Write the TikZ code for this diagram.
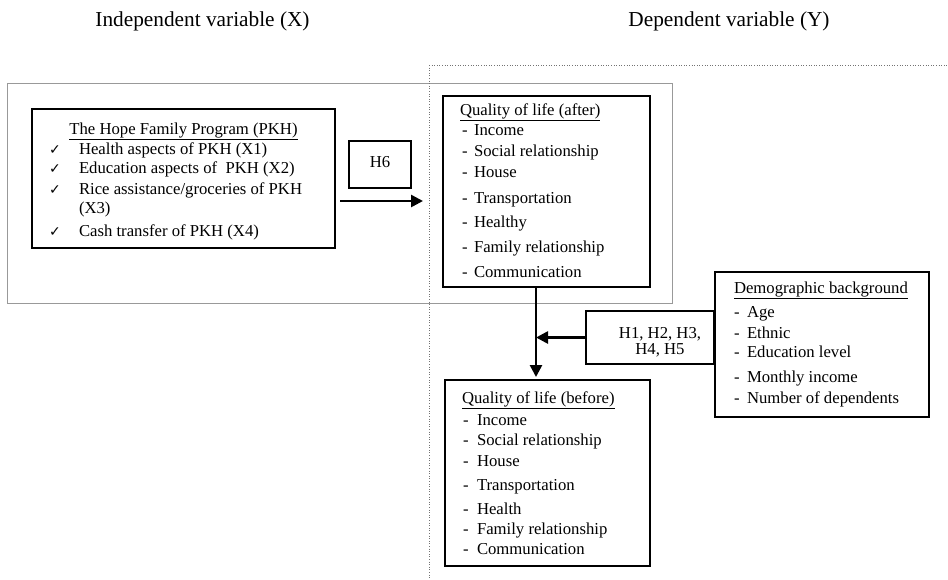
\documentclass[tikz,border=0pt]{standalone}
\usepackage{fontspec}
\setmainfont{Liberation Serif}
\newfontfamily\symfont{DejaVu Sans}
\usetikzlibrary{arrows.meta,calc}
\tikzset{
  box/.style={draw=black, line width=1.1pt, rectangle, inner sep=0pt, outer sep=0pt, anchor=north west},
  txt/.style={inner sep=0pt, outer sep=0pt, anchor=base west, font=\fontsize{16.7}{19}\selectfont},
  head/.style={inner sep=0pt, outer sep=0pt, anchor=base, font=\fontsize{21.3}{24}\selectfont},
  arr/.style={line width=2.6pt, -{Triangle[length=12pt,width=12pt]}},
  frame/.style={draw=black!40, line width=0.8pt},
  dotline/.style={draw=black!55, line width=0.6pt, dotted},
  chk/.style={inner sep=0pt, outer sep=0pt, anchor=base west, font=\symfont\fontsize{14}{16}\selectfont}
}
\begin{document}
\begin{tikzpicture}[x=1pt,y=-1pt]
\useasboundingbox (0,0) rectangle (948,579);
% headings
\node[head] (hx) at (202.5,26) {Independent variable (X)};
\node[head] (hy) at (729,26) {Dependent variable (Y)};
% frames
\draw[frame] (7,83) rectangle (672,303);
\draw[dotline] (429,65) -- (948,65);
\draw[dotline] (429,65) -- (429,579);
% PKH box
\node[box, minimum width=303pt, minimum height=139pt] (pkh) at (32,109) {};
\node[txt, anchor=base] (pkht) at (183.5,134.5) {\underline{The Hope Family Program (PKH)}};
\node[txt] (pkhi1) at (79,154) {Health aspects of PKH (X1)};
\node[txt] (pkhi2) at (79,173) {Education aspects of\ \ PKH (X2)};
\node[txt] (pkhi3) at (79,194) {Rice assistance/groceries of PKH};
\node[txt] (pkhx3) at (79,213) {(X3)};
\node[txt] (pkhi4) at (79,236) {Cash transfer of PKH (X4)};
\node[chk] (pkhc1) at (49,154) {✓};
\node[chk] (pkhc2) at (49,173) {✓};
\node[chk] (pkhc3) at (49,194) {✓};
\node[chk] (pkhc4) at (49,236) {✓};
% H6
\node[box, minimum width=62pt, minimum height=47pt] (h6) at (349,141) {};
\node[txt, anchor=base] (h6t) at (380,167) {H6};
% QoL after
\node[box, minimum width=207pt, minimum height=191pt] (qa) at (443,96) {};
\node[txt] (qat) at (460,115) {\underline{Quality of life (after)}};
\foreach \t/\y [count=\i] in {Income/135, Social relationship/156, House/177, Transportation/203, Healthy/227, Family relationship/252, Communication/277} {
  \node[txt] (qai\i) at (474,\y) {\t};
  \node[txt] (qad\i) at (462,\y) {-};
}
% QoL before
\node[box, minimum width=205pt, minimum height=186pt] (qb) at (445,380) {};
\node[txt] (qbt) at (462,403) {\underline{Quality of life (before)}};
\foreach \t/\y [count=\i] in {Income/425, Social relationship/445, House/466, Transportation/490, Health/514, Family relationship/534, Communication/554} {
  \node[txt] (qbi\i) at (477,\y) {\t};
  \node[txt] (qbd\i) at (463,\y) {-};
}
% Demographic
\node[box, minimum width=214pt, minimum height=145pt] (dem) at (715,272) {};
\node[txt] (demt) at (734,293) {\underline{Demographic background}};
\foreach \t/\y [count=\i] in {Age/317, Ethnic/338, Education level/357, Monthly income/382, Number of dependents/403} {
  \node[txt] (demi\i) at (747,\y) {\t};
  \node[txt] (demd\i) at (734,\y) {-};
}
% H1-H5
\node[box, minimum width=128pt, minimum height=53pt] (h1) at (586,311) {};
\node[txt, anchor=base] (h1a) at (660,338) {H1, H2, H3,};
\node[txt, anchor=base] (h1b) at (660,354) {H4, H5};
% connectors
\coordinate (a1) at (340,201);
\coordinate (a2) at (423,201);
\coordinate (vx) at (536,0);
\draw[arr] (a1) -- (a2);
\draw[arr, shorten >=3pt] (vx |- qa.south) -- (vx |- qb.north);
\draw[arr] (h1.west) -- (vx |- h1.west);
\end{tikzpicture}
\end{document}
